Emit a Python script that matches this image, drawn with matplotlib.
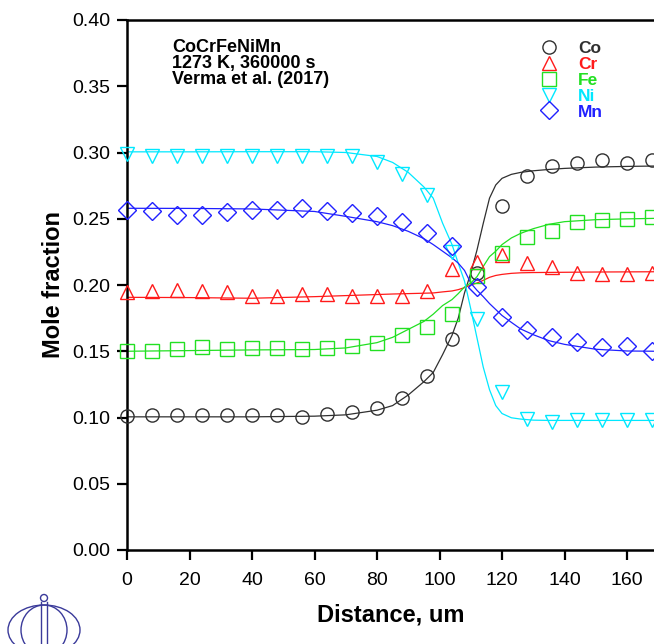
import matplotlib
matplotlib.use("Agg")
import matplotlib.pyplot as plt
from matplotlib.patches import Ellipse, Circle
from matplotlib.lines import Line2D
from matplotlib.transforms import IdentityTransform

plt.rcParams["font.family"] = ["Liberation Sans", "DejaVu Sans"]

# measured points (distance in um, mole fraction)
x_pts = [0, 8, 16, 24, 32, 40, 48, 56, 64, 72, 80, 88, 96, 104, 112, 120, 128, 136, 144, 152, 160, 168]
co_pts = [0.101, 0.102, 0.102, 0.102, 0.102, 0.102, 0.102, 0.1006, 0.1025, 0.104, 0.107, 0.115,
          0.131, 0.159, 0.209, 0.2596, 0.282, 0.290, 0.292, 0.294, 0.292, 0.294]
cr_pts = [0.195, 0.1955, 0.1965, 0.1955, 0.1947, 0.1917, 0.1917, 0.193, 0.1935, 0.1917, 0.1917, 0.192,
          0.1957, 0.212, 0.217, 0.2226, 0.2169, 0.2138, 0.2088, 0.208, 0.208, 0.209]
fe_pts = [0.150, 0.150, 0.152, 0.153, 0.152, 0.1527, 0.1527, 0.152, 0.1527, 0.154, 0.1565, 0.1623,
          0.168, 0.178, 0.207, 0.224, 0.236, 0.241, 0.2478, 0.249, 0.2496, 0.251]
ni_pts = [0.299, 0.297, 0.297, 0.297, 0.297, 0.297, 0.297, 0.297, 0.297, 0.2975, 0.293, 0.284,
          0.268, 0.225, 0.174, 0.119, 0.0986, 0.0968, 0.098, 0.098, 0.098, 0.098]
mn_pts = [0.2566, 0.2558, 0.2528, 0.2528, 0.2554, 0.2566, 0.2566, 0.2579, 0.2561, 0.2546, 0.2521, 0.2478,
          0.239, 0.2294, 0.1988, 0.176, 0.166, 0.161, 0.157, 0.153, 0.154, 0.150]

# calculated profiles
x_calc = [0, 20, 40, 60, 70, 80, 85, 90, 95, 98, 101, 104, 106, 108, 110, 112, 114, 116, 118, 120,
          123, 126, 130, 135, 140, 150, 160, 169]
co_calc = [0.1005, 0.1005, 0.1005, 0.101, 0.102, 0.1055, 0.109, 0.117, 0.127, 0.134, 0.1475, 0.162,
           0.175, 0.194, 0.209, 0.2264, 0.2465, 0.2655, 0.2755, 0.2805, 0.2835, 0.285, 0.2862, 0.2872,
           0.288, 0.289, 0.2895, 0.2898]
cr_calc = [0.1907, 0.1905, 0.190, 0.1912, 0.192, 0.1928, 0.1932, 0.1935, 0.1938, 0.194, 0.1948, 0.1955,
           0.1965, 0.198, 0.200, 0.2015, 0.2035, 0.2058, 0.2072, 0.208, 0.2088, 0.2092, 0.2094, 0.2095,
           0.2096, 0.2098, 0.2099, 0.210]
fe_calc = [0.150, 0.1505, 0.151, 0.1513, 0.1525, 0.1565, 0.1605, 0.1665, 0.1725, 0.178, 0.1845, 0.189,
           0.1935, 0.1985, 0.2015, 0.2063, 0.214, 0.2214, 0.2255, 0.2305, 0.2355, 0.239, 0.2425, 0.2458,
           0.2478, 0.2493, 0.2499, 0.2503]
ni_calc = [0.3005, 0.3005, 0.3006, 0.3006, 0.300, 0.297, 0.2925, 0.285, 0.274, 0.2655, 0.2466, 0.2305,
           0.2164, 0.203, 0.182, 0.160, 0.138, 0.121, 0.109, 0.103, 0.0998, 0.0988, 0.098, 0.0978,
           0.0978, 0.0978, 0.0978, 0.0978]
mn_calc = [0.2579, 0.2578, 0.2574, 0.2555, 0.2518, 0.2478, 0.2448, 0.2405, 0.235, 0.2305, 0.2255, 0.2205,
           0.2165, 0.211, 0.2015, 0.196, 0.1912, 0.186, 0.1815, 0.177, 0.1718, 0.1668, 0.1625, 0.158,
           0.1552, 0.1515, 0.1502, 0.150]

names = ["Co", "Cr", "Fe", "Ni", "Mn"]
colors = ["#303030", "#ff1a1a", "#22e022", "#00e8ff", "#2020ff"]
markers = ["o", "^", "s", "v", "D"]
msizes = [9.5, 10, 9.5, 10, 9.0]

fig = plt.figure(figsize=(6.54, 6.44), dpi=100)
ax = fig.add_axes([127 / 654, 94 / 644, 527 / 654, 530 / 644])

pts = [co_pts, cr_pts, fe_pts, ni_pts, mn_pts]
calc = [co_calc, cr_calc, fe_calc, ni_calc, mn_calc]
for nm, c, mk, ms, yp, yc in zip(names, colors, markers, msizes, pts, calc):
    ax.plot(x_calc, yc, color=c, lw=0.9, zorder=2)
    ax.plot(x_pts, yp, ls="none", marker=mk, ms=ms, mfc="none", mec=c, mew=1.0, label=nm,
            zorder=3, clip_on=False)

ax.set_xlim(0, 168.64)
ax.set_ylim(0, 0.40)
ax.set_xticks(range(0, 161, 20))
ax.set_yticks([0, 0.05, 0.10, 0.15, 0.20, 0.25, 0.30, 0.35, 0.40])
ax.set_yticklabels([f"{v:.2f}" for v in ax.get_yticks()])
ax.tick_params(direction="out", length=7, width=1.6, labelsize=14, pad=5)
ax.tick_params(axis="x", pad=9)
ax.spines["right"].set_visible(False)
for s in ["left", "bottom", "top"]:
    ax.spines[s].set_linewidth(1.8)

ax.set_xlabel("Distance, um", fontsize=17, fontweight="bold", labelpad=10)
ax.set_ylabel("Mole fraction", fontsize=17, fontweight="bold", labelpad=5)

ax.text(45 / 527, (550 - 39) / 530, "CoCrFeNiMn\n1273 K, 360000 s\nVerma et al. (2017)",
        transform=ax.transAxes, fontsize=13, fontweight="bold", va="top", ha="left", linespacing=0.92)

handles = [Line2D([], [], ls="none", marker=mk, ms=ms, mfc="none", mec=c, mew=1.0)
           for c, mk, ms in zip(colors, markers, msizes)]
ax.legend(handles, names, loc="upper left", bbox_to_anchor=((540 - 127) / 527, (550 - 41) / 530),
          frameon=False, borderpad=0, borderaxespad=0, handlelength=1.0, handletextpad=1.2,
          labelspacing=0.04, prop={"weight": "bold", "size": 12.5}, labelcolor=colors)

# logo in the lower-left corner (pixel coordinates, origin bottom-left)
H = 644
lc = "#3a3a9a"
for w in (72, 46):
    fig.add_artist(Ellipse((44, H - 630), w, 50, fill=False, ec=lc, lw=1.0, transform=IdentityTransform()))
fig.add_artist(Circle((44, H - 598), 3.5, fill=False, ec=lc, lw=1.0, transform=IdentityTransform()))
for xv in (41, 47):
    fig.add_artist(Line2D([xv, xv], [H - 602, H - 660], color=lc, lw=1.0, transform=IdentityTransform()))

fig.savefig("out.png", dpi=100)
